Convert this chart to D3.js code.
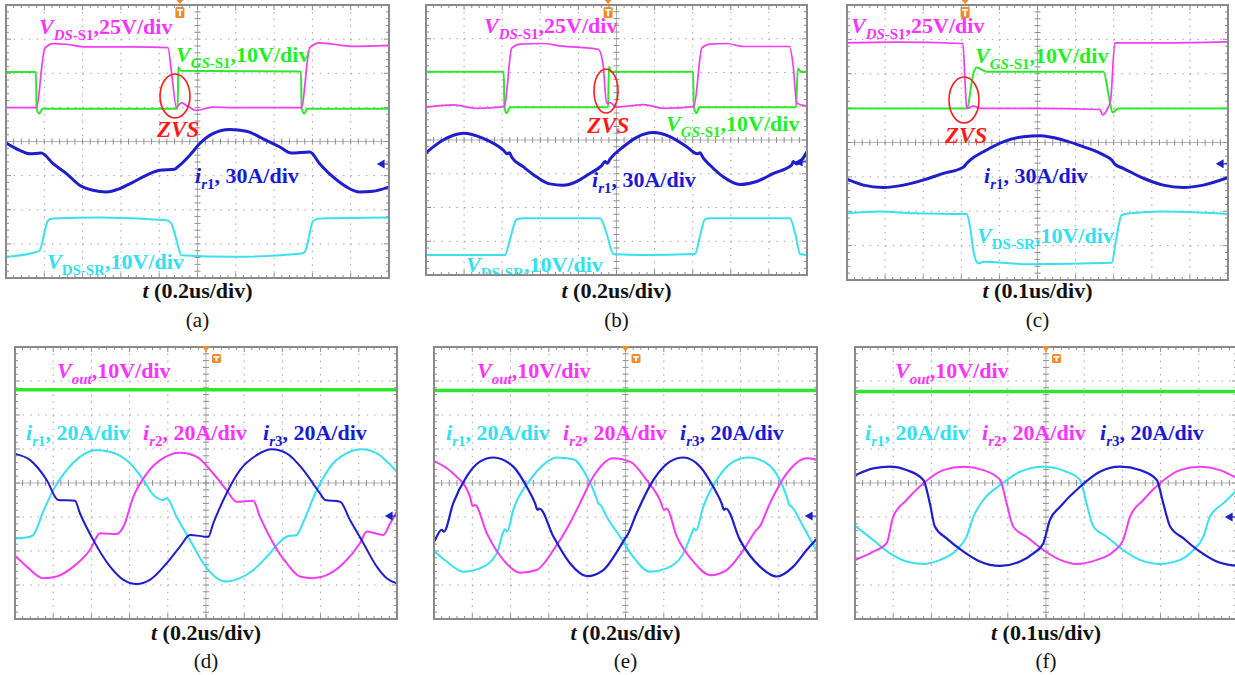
<!DOCTYPE html>
<html>
<head>
<meta charset="utf-8">
<script src="https://cdn.jsdelivr.net/npm/d3@7"></script>
<style>
  body { margin: 0; background: #fff; }
  svg { display: block; }
</style>
</head>
<body>
<svg id="fig" width="1235" height="675"></svg>
<script>
// Scope captures. Each trace is a list of [time, level] pairs in screen divisions:
// time 0..10 across the graticule, level -4..4 with 0 on the centre line.

// (a) 0.2 us/div
const a_vds = [[0,0.99],[0.79,0.99],[1.01,2.72],[1.23,2.87],[1.58,2.85],[2.10,2.77],[3.32,2.77],[4.23,2.75],[4.32,2.04],[4.45,1.01],[4.58,1.13],[4.75,1.03],[4.97,0.91],[5.40,1.01],[5.93,0.99],[6.80,0.99],[7.71,0.99],[7.93,2.75],[8.19,2.89],[8.54,2.85],[9.06,2.79],[10,2.82]];
const a_vgs = [[0,2.04],[0.78,2.04],[0.80,0.96],[0.87,0.82],[0.95,0.96],[4.48,0.96],[4.50,2.18],[4.56,2.07],[7.70,2.05],[7.72,0.96],[7.79,0.82],[7.86,0.96],[10,0.96]];
const a_ir1 = [[0,-0.04],[0.36,-0.26],[0.62,-0.36],[0.92,-0.34],[1.23,-0.65],[1.58,-0.94],[1.92,-1.28],[2.27,-1.43],[2.62,-1.48],[2.97,-1.38],[3.32,-1.19],[3.66,-0.99],[4.01,-0.84],[4.40,-0.81],[4.53,-0.70],[4.80,-0.40],[5.06,-0.06],[5.40,0.23],[5.84,0.35],[6.28,0.30],[6.71,0.08],[7.15,-0.16],[7.45,-0.34],[7.93,-0.31],[8.19,-0.65],[8.54,-1.04],[8.89,-1.33],[9.23,-1.48],[9.58,-1.46],[10,-1.33]];
const a_vdssr = [[0,-3.38],[0.79,-3.24],[0.88,-3.19],[1.10,-2.31],[1.23,-2.26],[2.45,-2.23],[4.19,-2.31],[4.32,-2.41],[4.45,-2.89],[4.58,-3.33],[5.93,-3.38],[7.67,-3.29],[7.80,-3.24],[8.02,-2.33],[8.19,-2.26],[10,-2.23]];

// (b) 0.2 us/div
const b_vds = [[0,0.97],[0.72,1.04],[1.33,0.94],[2.03,0.99],[2.06,1.01],[2.25,2.72],[2.47,2.84],[3.08,2.86],[3.52,2.79],[4.52,2.69],[4.65,2.22],[4.74,1.09],[4.83,1.11],[5.00,0.97],[5.35,1.01],[5.70,1.05],[6.23,0.94],[7.03,0.99],[7.24,2.72],[7.45,2.84],[7.89,2.86],[8.33,2.77],[9.54,2.77],[9.64,2.17],[9.73,1.09],[10,1.01]];
const b_vgs = [[0,2.02],[2.04,2.02],[2.06,0.97],[2.12,0.79],[2.20,0.97],[4.78,0.97],[4.80,2.17],[4.86,2.02],[7.01,2.02],[7.03,0.97],[7.10,0.79],[7.17,0.97],[9.71,0.97],[9.76,2.12],[9.85,2.02],[10,2.02]];
const b_ir1 = [[0,-0.38],[0.45,0.00],[0.98,0.20],[1.50,0.05],[2.03,-0.30],[2.13,-0.41],[2.19,-0.38],[2.25,-0.51],[2.55,-0.79],[2.90,-1.09],[3.25,-1.30],[3.60,-1.34],[3.95,-1.23],[4.30,-0.99],[4.61,-0.76],[4.70,-0.64],[4.76,-0.69],[4.83,-0.57],[5.18,-0.20],[5.53,0.08],[5.97,0.22],[6.40,0.10],[6.84,-0.20],[7.12,-0.41],[7.19,-0.38],[7.28,-0.54],[7.45,-0.74],[7.80,-1.09],[8.24,-1.32],[8.68,-1.23],[9.12,-0.99],[9.60,-0.74],[9.64,-0.64],[9.73,-0.71],[10,-0.35]];
const b_vdssr = [[0,-3.41],[2.07,-3.41],[2.20,-2.96],[2.38,-2.35],[2.55,-2.32],[4.57,-2.32],[4.74,-2.77],[4.92,-3.38],[5.70,-3.41],[7.06,-3.38],[7.19,-2.86],[7.32,-2.35],[7.45,-2.32],[9.55,-2.32],[9.69,-2.77],[9.82,-3.38],[10,-3.41]];

// (c) 0.1 us/div
const c_vds = [[0,2.90],[1.30,2.92],[3.04,2.88],[3.10,1.72],[3.14,0.99],[3.32,1.06],[3.49,0.99],[4.80,0.99],[6.64,0.96],[6.71,0.80],[6.82,0.94],[6.92,1.24],[7.03,2.90],[8.30,2.90],[10,2.93]];
const c_vgs = [[0,0.99],[3.14,0.99],[3.33,2.06],[3.40,2.18],[3.67,2.06],[6.73,2.06],[6.89,1.24],[6.97,0.87],[7.12,0.99],[10,0.99]];
const c_ir1 = [[0,-1.07],[0.43,-1.24],[0.95,-1.31],[1.48,-1.24],[2.00,-1.09],[2.53,-0.90],[3.05,-0.72],[3.14,-0.61],[3.23,-0.51],[3.58,-0.27],[4.10,0.02],[4.63,0.17],[5.07,0.20],[5.68,0.07],[6.20,-0.12],[6.73,-0.36],[6.95,-0.51],[7.03,-0.63],[7.25,-0.75],[7.78,-1.04],[8.30,-1.24],[8.83,-1.31],[9.35,-1.24],[10,-1.02]];
const c_vdssr = [[0,-2.06],[0.87,-2.01],[1.74,-2.06],[3.14,-2.08],[3.23,-2.45],[3.33,-3.23],[3.45,-3.52],[3.58,-3.47],[4.80,-3.54],[6.95,-3.50],[7.06,-2.84],[7.21,-2.11],[7.43,-2.06],[8.30,-2.01],[10,-2.08]];

// (d) 0.2 us/div
const d_vout = [[0,2.74],[10,2.74]];
const d_ir1 = [[0.04,-1.63],[0.39,-1.58],[0.48,-1.53],[0.74,-0.84],[1.00,-0.21],[1.35,0.38],[1.70,0.77],[2.14,0.97],[2.57,0.89],[3.01,0.58],[3.36,0.09],[3.62,-0.35],[3.88,-0.50],[3.97,-0.45],[4.23,-0.99],[4.58,-1.68],[4.93,-2.36],[5.19,-2.71],[5.54,-2.90],[5.89,-2.80],[6.24,-2.56],[6.59,-2.17],[6.94,-1.73],[7.11,-1.58],[7.37,-1.53],[7.55,-1.14],[7.90,-0.21],[8.33,0.58],[8.68,0.87],[9.08,0.99],[9.47,0.87],[10,0.33]];
const d_ir2 = [[0.03,-2.17],[0.31,-2.46],[0.74,-2.80],[1.09,-2.75],[1.53,-2.46],[1.96,-1.97],[2.23,-1.48],[2.66,-1.50],[2.84,-1.28],[3.10,-0.40],[3.45,0.28],[3.88,0.73],[4.32,0.89],[4.76,0.77],[5.19,0.28],[5.54,-0.21],[5.80,-0.55],[6.24,-0.52],[6.41,-0.99],[6.76,-1.77],[7.11,-2.36],[7.46,-2.75],[7.81,-2.80],[8.16,-2.71],[8.60,-2.36],[9.03,-1.77],[9.21,-1.43],[9.64,-1.53],[9.82,-1.19],[10,-0.84]];
const d_ir3 = [[0.03,0.85],[0.39,0.68],[0.83,0.09],[1.13,-0.50],[1.57,-0.52],[1.70,-0.89],[2.05,-1.68],[2.49,-2.46],[2.84,-2.85],[3.18,-2.97],[3.53,-2.85],[3.97,-2.36],[4.32,-1.87],[4.58,-1.53],[5.06,-1.58],[5.19,-1.19],[5.54,-0.30],[5.89,0.38],[6.33,0.82],[6.72,0.99],[7.11,0.87],[7.55,0.38],[7.98,-0.30],[8.12,-0.50],[8.51,-0.55],[8.77,-1.09],[9.12,-1.77],[9.47,-2.46],[9.73,-2.80],[10,-2.95]];

// (e) 0.2 us/div
const e_vout = [[0,2.72],[10,2.72]];
const e_ir1 = [[0.03,-2.02],[0.33,-2.31],[0.77,-2.61],[1.20,-2.51],[1.64,-2.07],[1.79,-1.50],[1.85,-1.36],[1.91,-1.43],[2.07,-0.79],[2.51,0.09],[2.85,0.53],[3.20,0.75],[3.64,0.70],[3.99,0.19],[4.23,-0.40],[4.29,-0.60],[4.35,-0.65],[4.51,-0.99],[4.86,-1.58],[5.20,-2.17],[5.64,-2.61],[6.07,-2.51],[6.51,-2.07],[6.73,-1.48],[6.79,-1.33],[6.84,-1.40],[7.03,-0.70],[7.38,0.09],[7.82,0.63],[8.21,0.75],[8.69,0.58],[9.03,0.09],[9.21,-0.40],[9.28,-0.65],[9.34,-0.70],[9.64,-1.28],[10,-2.02]];
const e_ir2 = [[0.03,0.63],[0.50,0.28],[0.94,-0.40],[1.01,-0.68],[1.07,-0.65],[1.38,-1.48],[1.81,-2.26],[2.25,-2.64],[2.68,-2.56],[3.12,-1.97],[3.45,-1.38],[3.51,-1.26],[3.81,-0.60],[4.16,0.19],[4.68,0.73],[5.12,0.63],[5.55,0.09],[5.90,-0.50],[6.01,-0.79],[6.07,-0.75],[6.34,-1.58],[6.77,-2.31],[7.21,-2.71],[7.64,-2.56],[8.08,-1.97],[8.42,-1.38],[8.49,-1.30],[8.77,-0.60],[9.21,0.28],[9.73,0.73],[10,0.68]];
const e_ir3 = [[0.03,-1.68],[0.20,-1.38],[0.26,-1.43],[0.50,-0.60],[0.85,0.19],[1.20,0.63],[1.55,0.75],[2.07,0.48],[2.42,-0.11],[2.64,-0.60],[2.70,-0.79],[2.75,-0.75],[3.12,-1.58],[3.55,-2.36],[3.99,-2.74],[4.42,-2.56],[4.86,-1.87],[4.99,-1.63],[5.05,-1.53],[5.29,-0.89],[5.73,0.09],[6.16,0.63],[6.51,0.75],[6.95,0.48],[7.29,-0.11],[7.51,-0.60],[7.57,-0.79],[7.62,-0.75],[7.99,-1.68],[8.51,-2.46],[8.95,-2.75],[9.38,-2.46],[9.73,-1.97],[10,-1.63]];

// (f) 0.1 us/div
const f_vout = [[0,2.69],[10,2.69]];
const f_ir1 = [[0.03,-1.28],[0.48,-1.68],[0.92,-2.07],[1.35,-2.31],[1.79,-2.38],[2.23,-2.26],[2.66,-1.97],[2.92,-1.58],[3.10,-0.99],[3.36,-0.50],[3.80,-0.06],[4.32,0.33],[4.93,0.48],[5.54,0.33],[5.89,0.09],[6.06,-0.60],[6.24,-1.28],[6.59,-1.58],[7.02,-1.97],[7.46,-2.26],[7.98,-2.38],[8.51,-2.26],[8.86,-1.97],[9.12,-1.58],[9.29,-0.99],[9.64,-0.60],[10,-0.21]];
const f_ir2 = [[0.03,-2.25],[0.48,-2.02],[0.83,-1.77],[1.00,-0.99],[1.35,-0.50],[1.79,-0.01],[2.31,0.38],[2.84,0.48],[3.36,0.38],[3.80,0.09],[3.97,-0.60],[4.14,-1.28],[4.49,-1.58],[4.93,-1.97],[5.37,-2.26],[5.80,-2.38],[6.33,-2.26],[6.76,-2.02],[7.02,-1.68],[7.20,-0.99],[7.55,-0.50],[7.98,-0.01],[8.51,0.38],[9.03,0.48],[9.55,0.38],[10,0.14]];
const f_ir3 = [[0.03,0.24],[0.48,0.43],[0.92,0.48],[1.35,0.38],[1.79,0.09],[1.96,-0.60],[2.09,-1.28],[2.40,-1.63],[2.84,-2.02],[3.27,-2.31],[3.80,-2.44],[4.32,-2.31],[4.67,-2.07],[4.93,-1.77],[5.10,-1.09],[5.37,-0.70],[5.89,-0.11],[6.41,0.33],[6.94,0.48],[7.46,0.38],[7.90,0.09],[8.07,-0.60],[8.25,-1.28],[8.60,-1.63],[9.03,-2.02],[9.47,-2.31],[10,-2.44]];

// Trigger position (divisions) and ground-reference level for each capture
const trigPos = { a: 4.54, b: 4.78, c: 3.10, d: 5, e: 5, f: 5 };
const gndLevel = { a: -0.66, b: -0.65, c: -0.62, d: -0.97, e: -0.97, f: -1.0 };
const timeBase = { a: '0.2us/div', b: '0.2us/div', c: '0.1us/div', d: '0.2us/div', e: '0.2us/div', f: '0.1us/div' };

// ---------- styling ----------
const MAG = '#f23cf2', GRN = '#2fe62f', BLU = '#1e1ecc', CYN = '#38e0f0', RED = '#ff1a1a';
const LMAG = '#ff33ff', LGRN = '#1ff01f', LBLU = '#1a1ad2', LCYN = '#33dff0';
const FONT = '"Liberation Serif","Times New Roman",Times,serif';

// label pieces: [text, flags]  i = italic, s = subscript
const L_VDS = [['V','i'],['DS','is'],['-S1','s'],[',25V/div','']];
const L_VGS = [['V','i'],['GS','is'],['-S1','s'],[',10V/div','']];
const L_IR1_30 = [['i','i'],['r','is'],['1','s'],[', 30A/div','']];
const L_VSR = [['V','i'],['DS-SR','s'],[',10V/div','']];
const L_ZVS = [['ZVS','i']];
const L_VOUT = [['V','i'],['out','is'],[',10V/div','']];
const L_IR = n => [['i','i'],['r','is'],[String(n),'s'],[', 20A/div','']];

const panels = [
  { id:'a', box:[6,5,383,273], top:true,
    traces:[[a_vdssr,CYN,2],[a_ir1,BLU,3],[a_vgs,GRN,2],[a_vds,MAG,1.7]],
    labels:[[L_VDS,LMAG,33,29],[L_VGS,LGRN,170,57],[L_ZVS,RED,151,132],[L_IR1_30,LBLU,189,178],[L_VSR,LCYN,41,264]],
    ring:[169,91,15,22] },
  { id:'b', box:[426,5,381,270], top:true,
    traces:[[b_vdssr,CYN,2],[b_ir1,BLU,3],[b_vgs,GRN,2],[b_vds,MAG,1.7]],
    labels:[[L_VDS,LMAG,58,28],[L_ZVS,RED,161,128],[L_VGS,LGRN,240,126],[L_IR1_30,LBLU,166,182],[L_VSR,LCYN,40,267]],
    ring:[180,86,12,22] },
  { id:'c', box:[847,5,381,275], top:true,
    traces:[[c_vdssr,CYN,2],[c_ir1,BLU,3],[c_vgs,GRN,2],[c_vds,MAG,1.7]],
    labels:[[L_VDS,LMAG,4,28],[L_VGS,LGRN,128,58],[L_ZVS,RED,98,138],[L_IR1_30,LBLU,137,178],[L_VSR,LCYN,130,238]],
    ring:[117,95,15,23] },
  { id:'d', box:[15,347,382,272], top:false,
    traces:[[d_vout,GRN,3.5],[d_ir1,CYN,2],[d_ir2,MAG,2],[d_ir3,BLU,2]],
    labels:[[L_VOUT,LMAG,42,31],[L_IR(1),LCYN,11,93],[L_IR(2),LMAG,128,93],[L_IR(3),LBLU,248,93]] },
  { id:'e', box:[434,347,383,272], top:false,
    traces:[[e_vout,GRN,3.5],[e_ir1,CYN,2],[e_ir2,MAG,2],[e_ir3,BLU,2.2]],
    labels:[[L_VOUT,LMAG,43,31],[L_IR(1),LCYN,12,93],[L_IR(2),LMAG,129,93],[L_IR(3),LBLU,246,93]] },
  { id:'f', box:[855,347,382,272], top:false,
    traces:[[f_vout,GRN,3.5],[f_ir1,CYN,2],[f_ir2,MAG,2],[f_ir3,BLU,2.2]],
    labels:[[L_VOUT,LMAG,40,31],[L_IR(1),LCYN,10,93],[L_IR(2),LMAG,127,93],[L_IR(3),LBLU,245,93]] }
];

const svg = d3.select('#fig');
const defs = svg.append('defs');

function richText(g, x, y, parts, color, size, anchor, weight) {
  const t = g.append('text')
    .attr('x', x).attr('y', y)
    .attr('fill', color)
    .attr('font-family', FONT)
    .attr('font-weight', weight || 'bold')
    .attr('font-size', size)
    .attr('text-anchor', anchor || 'start');
  let shift = 0;
  parts.forEach(([s, f]) => {
    const sub = f.includes('s');
    const ts = t.append('tspan').text(s)
      .attr('font-style', f.includes('i') ? 'italic' : 'normal');
    const want = sub ? size * 0.27 : 0;
    if (want !== shift) { ts.attr('dy', want - shift); shift = want; }
    if (sub) ts.attr('font-size', size * 0.68);
  });
  return t;
}

function graticule(g, x, y) {
  const [L, R] = x.range();
  const [B, T] = y.range();
  const sx = (x(1) - x(0)) / 5, sy = (y(0) - y(1)) / 5;
  const GRID = '#a0a0a0';

  // dotted division lines
  g.selectAll(null).data(d3.range(1, 10).filter(i => i !== 5)).enter()
    .append('line')
    .attr('x1', d => x(d)).attr('x2', d => x(d)).attr('y1', T).attr('y2', B)
    .attr('stroke', GRID).attr('stroke-width', 1)
    .attr('stroke-dasharray', `1.4 ${sy - 1.4}`);
  g.selectAll(null).data(d3.range(-3, 4).filter(i => i !== 0)).enter()
    .append('line')
    .attr('y1', d => y(d)).attr('y2', d => y(d)).attr('x1', L).attr('x2', R)
    .attr('stroke', GRID).attr('stroke-width', 1)
    .attr('stroke-dasharray', `1.4 ${sx - 1.4}`);

  // centre axes with minor ticks
  g.append('line').attr('x1', x(5)).attr('x2', x(5)).attr('y1', T).attr('y2', B)
    .attr('stroke', '#b4b4b4').attr('stroke-width', 1);
  g.append('line').attr('y1', y(0)).attr('y2', y(0)).attr('x1', L).attr('x2', R)
    .attr('stroke', '#b4b4b4').attr('stroke-width', 1);
  const tx = d3.range(1, 50).map(i => i / 5);
  const ty = d3.range(-19, 20).map(i => i / 5);
  g.selectAll(null).data(tx).enter().append('line')
    .attr('x1', d => x(d)).attr('x2', d => x(d))
    .attr('y1', y(0) - 3).attr('y2', y(0) + 3)
    .attr('stroke', '#8e8e8e').attr('stroke-width', 1);
  g.selectAll(null).data(ty).enter().append('line')
    .attr('y1', d => y(d)).attr('y2', d => y(d))
    .attr('x1', x(5) - 3).attr('x2', x(5) + 3)
    .attr('stroke', '#8e8e8e').attr('stroke-width', 1);

  // edge ticks
  [[T, 1], [B, -1]].forEach(([yy, s]) => {
    g.selectAll(null).data(tx).enter().append('line')
      .attr('x1', d => x(d)).attr('x2', d => x(d))
      .attr('y1', yy).attr('y2', d => yy + s * (Number.isInteger(d) ? 5 : 3))
      .attr('stroke', '#8e8e8e').attr('stroke-width', 1);
  });
  [[L, 1], [R, -1]].forEach(([xx, s]) => {
    g.selectAll(null).data(ty).enter().append('line')
      .attr('y1', d => y(d)).attr('y2', d => y(d))
      .attr('x1', xx).attr('x2', d => xx + s * (Number.isInteger(d) ? 5 : 3))
      .attr('stroke', '#8e8e8e').attr('stroke-width', 1);
  });

  g.append('rect').attr('x', L).attr('y', T).attr('width', R - L).attr('height', B - T)
    .attr('fill', 'none').attr('stroke', '#8a8a8a').attr('stroke-width', 2);
}

// small "T" trigger badge drawn as a shape
function trigBadge(g, bx, by, w, h) {
  const ORANGE = '#f28a2a';
  g.append('rect').attr('x', bx).attr('y', by).attr('width', w).attr('height', h)
    .attr('rx', 1.5).attr('fill', ORANGE);
  const cx = bx + w / 2;
  g.append('path')
    .attr('d', `M${cx - 3},${by + 2} H${cx + 3} V${by + 3.8} H${cx + 1} V${by + h - 1.8} H${cx - 1} V${by + 3.8} H${cx - 3} Z`)
    .attr('fill', '#fff');
}

panels.forEach(p => {
  const [px, py, pw, ph] = p.box;
  const x = d3.scaleLinear().domain([0, 10]).range([px, px + pw]);
  const y = d3.scaleLinear().domain([-4, 4]).range([py + ph, py]);
  const g = svg.append('g').attr('class', 'panel-' + p.id);

  defs.append('clipPath').attr('id', 'clip-' + p.id)
    .append('rect').attr('x', px + 1).attr('y', py + 1).attr('width', pw - 2).attr('height', ph - 2);

  graticule(g, x, y);

  const inner = g.append('g').attr('clip-path', `url(#clip-${p.id})`);
  const line = d3.line().x(d => x(d[0])).y(d => y(d[1])).curve(d3.curveMonotoneX);
  p.traces.forEach(([data, color, w]) => {
    inner.append('path').datum(data)
      .attr('d', line)
      .attr('fill', 'none')
      .attr('stroke', color)
      .attr('stroke-width', w)
      .attr('stroke-linejoin', 'round')
      .attr('stroke-linecap', 'round');
  });

  // ground reference arrow on the right edge
  const gy = y(gndLevel[p.id]);
  const rx = px + pw;
  inner.append('path')
    .attr('d', `M${rx - 11},${gy} L${rx - 5},${gy - 3.5} L${rx - 5},${gy + 3.5} Z M${rx - 6},${gy} L${rx - 1},${gy}`)
    .attr('fill', BLU).attr('stroke', BLU).attr('stroke-width', 1.2);

  // channel annotations
  const lab = g.append('g').attr('clip-path', `url(#clip-${p.id})`);
  p.labels.forEach(([parts, color, lx, ly]) => {
    richText(lab, px + lx, py + ly, parts, color, parts === L_ZVS ? 23 : 22);
  });

  if (p.ring) {
    const [cx, cy, erx, ery] = p.ring;
    g.append('ellipse').attr('cx', px + cx).attr('cy', py + cy)
      .attr('rx', erx).attr('ry', ery)
      .attr('fill', 'none').attr('stroke', RED).attr('stroke-width', 1.6);
  }

  // trigger marker
  const tx = x(trigPos[p.id]);
  const ORANGE = '#f28a2a';
  if (p.top) {
    g.append('path').attr('d', `M${tx - 3.5},${py - 5} L${tx + 3.5},${py - 5} L${tx},${py - 1} Z`).attr('fill', ORANGE);
    trigBadge(g, tx - 4.5, py + 2, 9, 11);
  } else {
    g.append('path').attr('d', `M${tx - 4},${py - 1} L${tx + 4},${py - 1} L${tx},${py + 5} Z`).attr('fill', ORANGE);
    trigBadge(g, tx + 6, py + 7, 9, 9);
  }

  // time axis caption and panel letter
  const cx = px + pw / 2;
  const capY = p.top ? 298 : 640;
  richText(svg, cx, capY, [['t','i'],[' (' + timeBase[p.id] + ')','']], '#111', 22, 'middle');
  svg.append('text').attr('x', cx).attr('y', p.top ? 327 : 668)
    .attr('text-anchor', 'middle').attr('font-family', FONT).attr('font-size', 21)
    .attr('fill', '#111').text('(' + p.id + ')');
});
</script>
</body>
</html>
